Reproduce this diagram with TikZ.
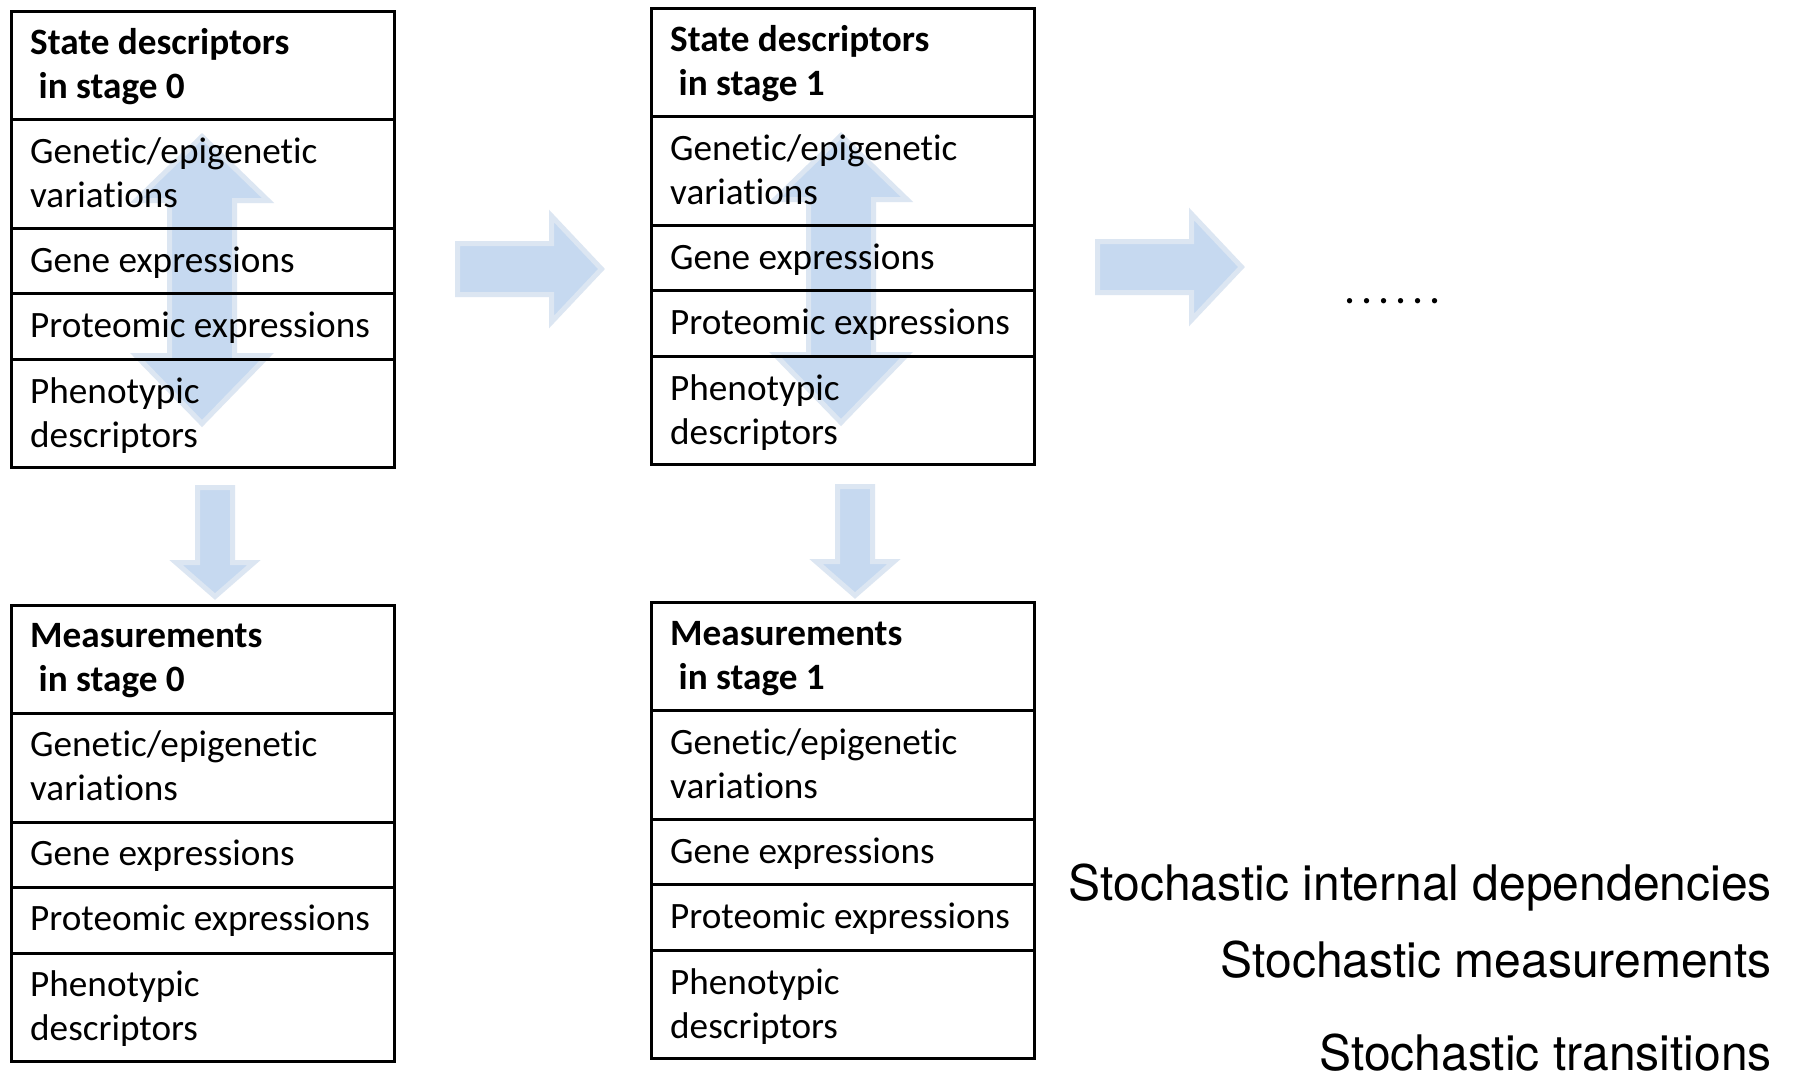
\documentclass[tikz,border=0pt]{standalone}
\usepackage{fontspec}
\usetikzlibrary{calc}
\setmainfont[Ligatures={NoCommon,NoRare}]{Carlito}
\newfontfamily\helvfont[FakeStretch=0.98]{TeX Gyre Heros}
\definecolor{arrowfill}{HTML}{C6D9F0}
\definecolor{arrowedge}{HTML}{DCE6F2}

% two lines of cell text, the box baseline being that of the first line
\newcommand\twoline[2]{\vtop{\baselineskip=44pt\lineskiplimit=0pt\hbox{#1}\hbox{#2}}}

\tikzset{
  cell/.style={draw=black, line width=3pt, minimum width=383pt, inner sep=0pt,
    outer sep=0pt, anchor=north west},
  celltext/.style={anchor=base west, inner sep=0pt, font=\fontsize{37.2}{44}\selectfont},
  blockarrow/.style={fill=arrowfill, draw=arrowedge, line width=5pt, line join=miter},
  note/.style={anchor=base east, inner sep=0pt, text depth=0pt,
    font=\helvfont\fontsize{49}{58}\selectfont},
}

% a five-row descriptor table: name, top-left corner, title lines
\newcommand\panel[5]{%
  \node[cell, minimum height=108pt] (#1-head) at (#2,#3) {};
  \node[cell, minimum height=109pt] (#1-gen)  at (#1-head.south west) {};
  \node[cell, minimum height=65pt]  (#1-expr) at (#1-gen.south west) {};
  \node[cell, minimum height=66pt]  (#1-prot) at (#1-expr.south west) {};
  \node[cell, minimum height=108pt] (#1-phen) at (#1-prot.south west) {};
  \node[celltext] (#1-t-head) at ($(#1-head.north west)+(18.5,42.5)$)
    {\twoline{\bfseries #4}{\bfseries\ #5}};
  \node[celltext] (#1-t-gen) at ($(#1-gen.north west)+(18.5,43.5)$)
    {\twoline{Genetic/epigenetic}{variations}};
  \node[celltext] (#1-t-expr) at ($(#1-expr.north west)+(18.5,43.5)$)
    {Gene expressions};
  \node[celltext] (#1-t-prot) at ($(#1-prot.north west)+(18.5,43.5)$)
    {Proteomic expressions};
  \node[celltext] (#1-t-phen) at ($(#1-phen.north west)+(18.5,43.5)$)
    {\twoline{Phenotypic}{descriptors}};
}

\begin{document}
\begin{tikzpicture}[x=1pt, y=-1pt]
  \useasboundingbox (0,0) rectangle (1796,1077);
  \fill[white] (0,0) rectangle (1796,1077);

  % internal dependencies inside each state table
  \foreach \ax/\ay in {202/133, 841/132} {
    \begin{scope}[shift={(\ax,\ay)}]
      \draw[blockarrow] (0,3.5) -- (66,67.5) -- (32.5,67.5) -- (32.5,222.5)
        -- (66,222.5) -- (0,290.5) -- (-66,222.5) -- (-32.5,222.5)
        -- (-32.5,67.5) -- (-66,67.5) -- cycle;
    \end{scope}
  }

  % transitions between stages
  \foreach \ax/\ay in {455/269, 1095/267} {
    \begin{scope}[shift={(\ax,\ay)}]
      \draw[blockarrow] (2.5,-25.5) -- (96.5,-25.5) -- (96.5,-53) -- (146.5,0)
        -- (96.5,53) -- (96.5,25.5) -- (2.5,25.5) -- cycle;
    \end{scope}
  }

  % measurements taken from each state
  \foreach \ax/\ay in {215/485, 855/484} {
    \begin{scope}[shift={(\ax,\ay)}]
      \draw[blockarrow] (-17.5,2.5) -- (-17.5,77.5) -- (-39,77.5) -- (0,111.5)
        -- (39,77.5) -- (17.5,77.5) -- (17.5,2.5) -- cycle;
    \end{scope}
  }

  \panel{s0}{11.5}{11.5}{State descriptors}{in stage 0}
  \panel{s1}{651.5}{8.5}{State descriptors}{in stage 1}
  \panel{m0}{11.5}{605}{Measurements}{in stage 0}
  \panel{m1}{651.5}{602.5}{Measurements}{in stage 1}

  \node[anchor=base west, inner sep=0pt, font=\fontsize{44}{50}\selectfont] (more)
    at (1344,303) {.\kern6pt.\kern6pt.\kern6pt.\kern6pt.\kern6pt.};

  \node[note] (n-dep)   at (1772,900)  {Stochastic internal dependencies};
  \node[note] (n-meas)  at (1772,977)  {Stochastic measurements};
  \node[note] (n-trans) at (1772,1070) {Stochastic transitions};
\end{tikzpicture}
\end{document}
